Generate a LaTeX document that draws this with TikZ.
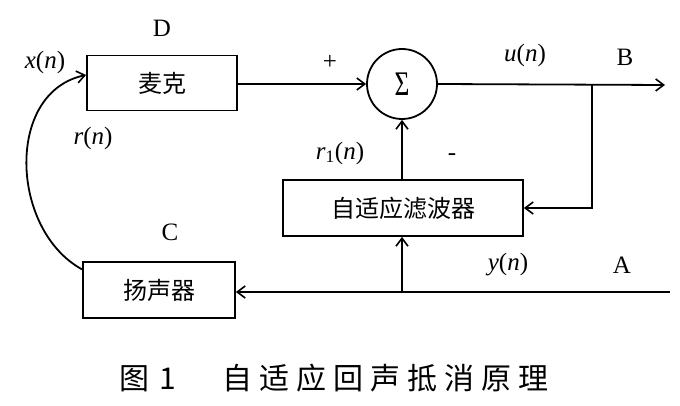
\documentclass[tikz,border=0pt]{standalone}
\usepackage{fontspec}
\setmainfont{Liberation Serif}
\newfontfamily\cjk{Noto Sans CJK SC}
\usetikzlibrary{arrows.meta,positioning}
\newcommand{\sgl}[1]{\textit{#1}(\textit{n})}

\begin{document}
\begin{tikzpicture}[x=1pt, y=-1pt, line width=1.8pt,
  blk/.style={draw, rectangle, minimum height=55pt, inner sep=0pt, font=\cjk\fontsize{24}{26}\selectfont},
  sumnode/.style={draw, circle, minimum size=70pt, inner sep=0pt, font=\fontsize{30}{32}\selectfont},
  lbl/.style={inner sep=0pt, font=\fontsize{25}{28}\selectfont},
  sigline/.style={-{Straight Barb[length=8pt,width=12pt,line width=1.6pt]}}]
\useasboundingbox (0,0) rectangle (680,406);

% blocks
\node[blk, minimum width=150pt] (mic) at (162,83) {麦克};
\node[sumnode] (sum) at (402,84) {\scalebox{0.85}[1.15]{Σ}};
\node[blk, minimum width=240pt, minimum height=56pt] (filt) at (403,208) {自适应滤波器};
\node[blk, minimum width=152pt, minimum height=56pt] (spk) at (159,290) {扬声器};

% free ends and taps
\coordinate (outB) at (665,85);
\coordinate (br) at (592,85);
\coordinate (inA) at (670,292);
\coordinate (tap) at (402,292);

% signal lines
\draw[sigline] (mic.east |- sum.west) -- (sum.west);
\draw[sigline] (sum.east) -- (outB);
\draw[sigline] (br) |- (filt.east);
\draw[sigline] (filt.north -| sum.south) -- (sum.south);
\draw[sigline] (inA) -- (spk.east |- inA);
\draw[sigline] (tap) -- (tap |- filt.south);
\draw[sigline] (spk.165) .. controls (10,230) and (5,92) .. (mic.174);

% labels
\foreach \nm/\t/\x/\y in {labD/D/162/28, labX/{\sgl{x}}/45/62, labR/{\sgl{r}}/93/138,
                          labP/+/330/62, labU/{\sgl{u}}/525/55, labB/B/625/57,
                          labRa/{\textit{r}\textsubscript{1}(\textit{n})}/340/153, labM/-/452/157,
                          labC/C/170/232, labY/{\sgl{y}}/508/265, labA/A/622/265}
  \node[lbl] (\nm) at (\x,\y) {\t};

% caption
\node[font=\cjk\fontsize{30}{32}\selectfont, inner sep=0pt] (cap) at (334,378)
  {图\hspace{10pt}1\hspace{47pt}自\hspace{7pt}适\hspace{7pt}应\hspace{7pt}回\hspace{7pt}声\hspace{7pt}抵\hspace{7pt}消\hspace{7pt}原\hspace{7pt}理};
\end{tikzpicture}
\end{document}
